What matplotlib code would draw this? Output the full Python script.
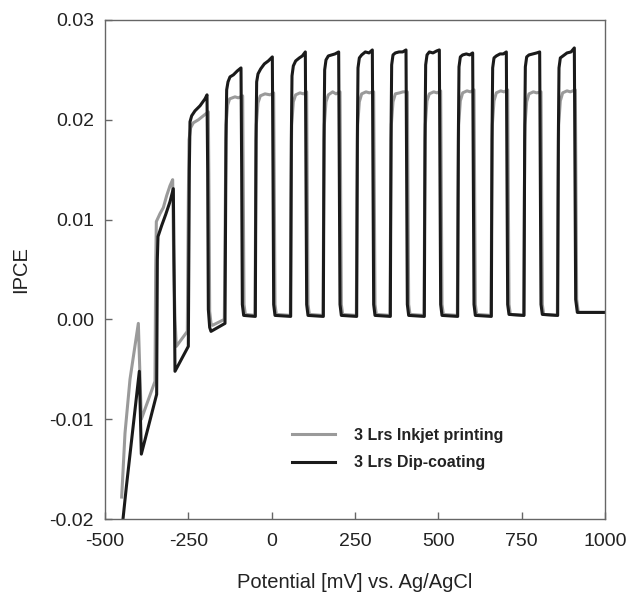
import matplotlib
matplotlib.use("Agg")
import matplotlib.pyplot as plt

plt.rcParams['font.family'] = ['Liberation Sans', 'DejaVu Sans']

# ---- data (potential in mV, IPCE) ----
dip_V = [
    -446, -436, -397, -391, -345,
    -343, -341, -330, -318, -305, -295,
    -293, -290, -250,
    -247, -245, -240, -230, -215, -200, -194,
    -192, -190, -186, -182, -140,
    -137, -135, -131, -125, -115, -103, -92,
    -90, -88, -84, -49,
    -47, -45, -41, -33, -22, -10, 2,
    4, 6, 10, 57,
    59, 61, 65, 72, 83, 92, 101,
    103, 105, 109, 155,
    157, 159, 163, 170, 180, 190, 201,
    203, 205, 209, 255,
    257, 259, 263, 270, 281, 292, 302,
    304, 306, 310, 356,
    358, 360, 364, 371, 382, 393, 403,
    405, 407, 411, 458,
    460, 462, 466, 473, 484, 495, 503,
    505, 507, 511, 558,
    560, 562, 566, 573, 584, 594, 603,
    605, 607, 611, 659,
    661, 663, 667, 674, 685, 695, 704,
    706, 708, 712, 757,
    759, 761, 765, 772, 784, 795, 804,
    806, 808, 812, 858,
    860, 862, 866, 874, 886, 898, 908,
    910, 912, 917, 1000,
]
dip_ipce = [
    -0.0200, -0.0168, -0.0052, -0.0135, -0.0075,
    0.0060, 0.0083, 0.0094, 0.0105, 0.0118, 0.0131,
    0.0060, -0.0052, -0.0027,
    0.0150, 0.0198, 0.0204, 0.0209, 0.0214, 0.0221, 0.0225,
    0.0150, 0.0010, -0.0008, -0.0012, -0.0004,
    0.0180, 0.0230, 0.0238, 0.0243, 0.0245, 0.0249, 0.0252,
    0.0150, 0.0015, 0.0004, 0.0003,
    0.0180, 0.0238, 0.0246, 0.0251, 0.0256, 0.0259, 0.0263,
    0.0150, 0.0015, 0.0004, 0.0003,
    0.0180, 0.0244, 0.0254, 0.0259, 0.0262, 0.0264, 0.0268,
    0.0150, 0.0015, 0.0004, 0.0003,
    0.0180, 0.0250, 0.0260, 0.0264, 0.0265, 0.0266, 0.0268,
    0.0150, 0.0015, 0.0004, 0.0003,
    0.0180, 0.0252, 0.0262, 0.0265, 0.0268, 0.0267, 0.0270,
    0.0150, 0.0015, 0.0004, 0.0003,
    0.0180, 0.0255, 0.0265, 0.0267, 0.0268, 0.0268, 0.0270,
    0.0150, 0.0015, 0.0004, 0.0003,
    0.0180, 0.0255, 0.0265, 0.0268, 0.0267, 0.0269, 0.0270,
    0.0150, 0.0015, 0.0004, 0.0003,
    0.0180, 0.0253, 0.0263, 0.0265, 0.0266, 0.0265, 0.0267,
    0.0150, 0.0015, 0.0004, 0.0003,
    0.0180, 0.0252, 0.0262, 0.0264, 0.0266, 0.0266, 0.0268,
    0.0150, 0.0015, 0.0005, 0.0004,
    0.0180, 0.0253, 0.0263, 0.0265, 0.0266, 0.0267, 0.0268,
    0.0150, 0.0015, 0.0005, 0.0004,
    0.0180, 0.0252, 0.0262, 0.0264, 0.0267, 0.0268, 0.0272,
    0.0150, 0.0020, 0.0007, 0.0007,
]

ink_V = [
    -450, -440, -425, -400, -391, -350,
    -348, -346, -335, -325, -315, -305, -297,
    -294, -290, -286, -253,
    -250, -248, -243, -235, -220, -205, -190,
    -188, -186, -182, -178, -142,
    -139, -137, -132, -126, -110, -100, -87,
    -85, -83, -79, -50,
    -48, -46, -41, -34, -20, -5, 6,
    8, 10, 14, 56,
    58, 60, 65, 72, 85, 95, 105,
    107, 109, 113, 154,
    156, 158, 163, 170, 183, 193, 205,
    207, 209, 213, 254,
    256, 258, 263, 270, 283, 293, 306,
    308, 310, 314, 355,
    357, 359, 364, 371, 384, 394, 407,
    409, 411, 415, 457,
    459, 461, 466, 473, 486, 496, 507,
    509, 511, 515, 557,
    559, 561, 566, 573, 586, 596, 607,
    609, 611, 615, 658,
    660, 662, 667, 674, 687, 697, 708,
    710, 712, 716, 756,
    758, 760, 765, 772, 785, 795, 808,
    810, 812, 816, 857,
    859, 861, 866, 873, 886, 896, 911,
    913, 915, 920, 1000,
]
ink_ipce = [
    -0.0178, -0.0114, -0.0060, -0.0004, -0.0100, -0.0062,
    0.0050, 0.0098, 0.0106, 0.0112, 0.0124, 0.0134, 0.0140,
    0.0060, 0.0000, -0.0027, -0.0012,
    0.0120, 0.0180, 0.0192, 0.0197, 0.0200, 0.0204, 0.0208,
    0.0120, 0.0008, -0.0004, -0.0006, 0.0000,
    0.0120, 0.0195, 0.0215, 0.0221, 0.0223, 0.0222, 0.0224,
    0.0120, 0.0015, 0.0005, 0.0004,
    0.0120, 0.0195, 0.0217, 0.0224, 0.0226, 0.0225, 0.0227,
    0.0120, 0.0015, 0.0005, 0.0004,
    0.0120, 0.0195, 0.0218, 0.0225, 0.0227, 0.0226, 0.0228,
    0.0120, 0.0015, 0.0005, 0.0004,
    0.0120, 0.0195, 0.0218, 0.0225, 0.0228, 0.0226, 0.0228,
    0.0120, 0.0015, 0.0005, 0.0004,
    0.0120, 0.0195, 0.0218, 0.0226, 0.0228, 0.0227, 0.0228,
    0.0120, 0.0015, 0.0005, 0.0004,
    0.0120, 0.0195, 0.0218, 0.0226, 0.0227, 0.0228, 0.0228,
    0.0120, 0.0015, 0.0005, 0.0004,
    0.0120, 0.0195, 0.0219, 0.0226, 0.0228, 0.0227, 0.0229,
    0.0120, 0.0015, 0.0005, 0.0004,
    0.0120, 0.0195, 0.0219, 0.0227, 0.0229, 0.0228, 0.0230,
    0.0120, 0.0015, 0.0005, 0.0004,
    0.0120, 0.0195, 0.0219, 0.0227, 0.0229, 0.0228, 0.0230,
    0.0120, 0.0015, 0.0005, 0.0004,
    0.0120, 0.0195, 0.0218, 0.0226, 0.0228, 0.0227, 0.0228,
    0.0120, 0.0015, 0.0005, 0.0004,
    0.0120, 0.0195, 0.0219, 0.0227, 0.0229, 0.0228, 0.0230,
    0.0120, 0.0020, 0.0007, 0.0007,
]

series_labels = ["3 Lrs Inkjet printing", "3 Lrs Dip-coating"]
x_ticks = [-500, -250, 0, 250, 500, 750, 1000]
y_ticks = [-0.02, -0.01, 0.00, 0.01, 0.02, 0.03]
y_tick_labels = ["-0.02", "-0.01", "0.00", "0.01", "0.02", "0.03"]

fig = plt.figure(figsize=(6.31, 5.96), dpi=100)
ax = fig.add_axes([105/631, 1-519/596, 500/631, 499/596])

ax.plot(ink_V, ink_ipce, color="#9a9a9a", lw=2.2, solid_joinstyle="round",
        label=series_labels[0])
ax.plot(dip_V, dip_ipce, color="#1a1a1a", lw=2.2, solid_joinstyle="round",
        label=series_labels[1])

ax.set_xlim(-500, 1000)
ax.set_ylim(-0.02, 0.03)
ax.set_xticks(x_ticks)
ax.set_xticklabels([str(t) for t in x_ticks])
ax.set_yticks(y_ticks)
ax.set_yticklabels(y_tick_labels)
ax.tick_params(direction="in", length=5, width=1, color="#666666",
               labelsize=14, labelcolor="#222222", pad=8)
ax.tick_params(axis="x", pad=10)
for s in ax.spines.values():
    s.set_color("#666666")
    s.set_linewidth(1)

ax.set_xlabel("Potential [mV] vs. Ag/AgCl", fontsize=14.5, color="#222222", labelpad=17)
ax.set_ylabel("IPCE", fontsize=14.5, color="#222222", labelpad=14)

leg = ax.legend(loc="upper left", bbox_to_anchor=(0.374, 0.183), frameon=False,
                prop={"weight": "bold", "size": 11.5}, handlelength=2.7,
                handletextpad=1.2, labelspacing=0.8, borderpad=0, borderaxespad=0)
for t in leg.get_texts():
    t.set_color("#222222")

fig.savefig("out.png", dpi=100)
